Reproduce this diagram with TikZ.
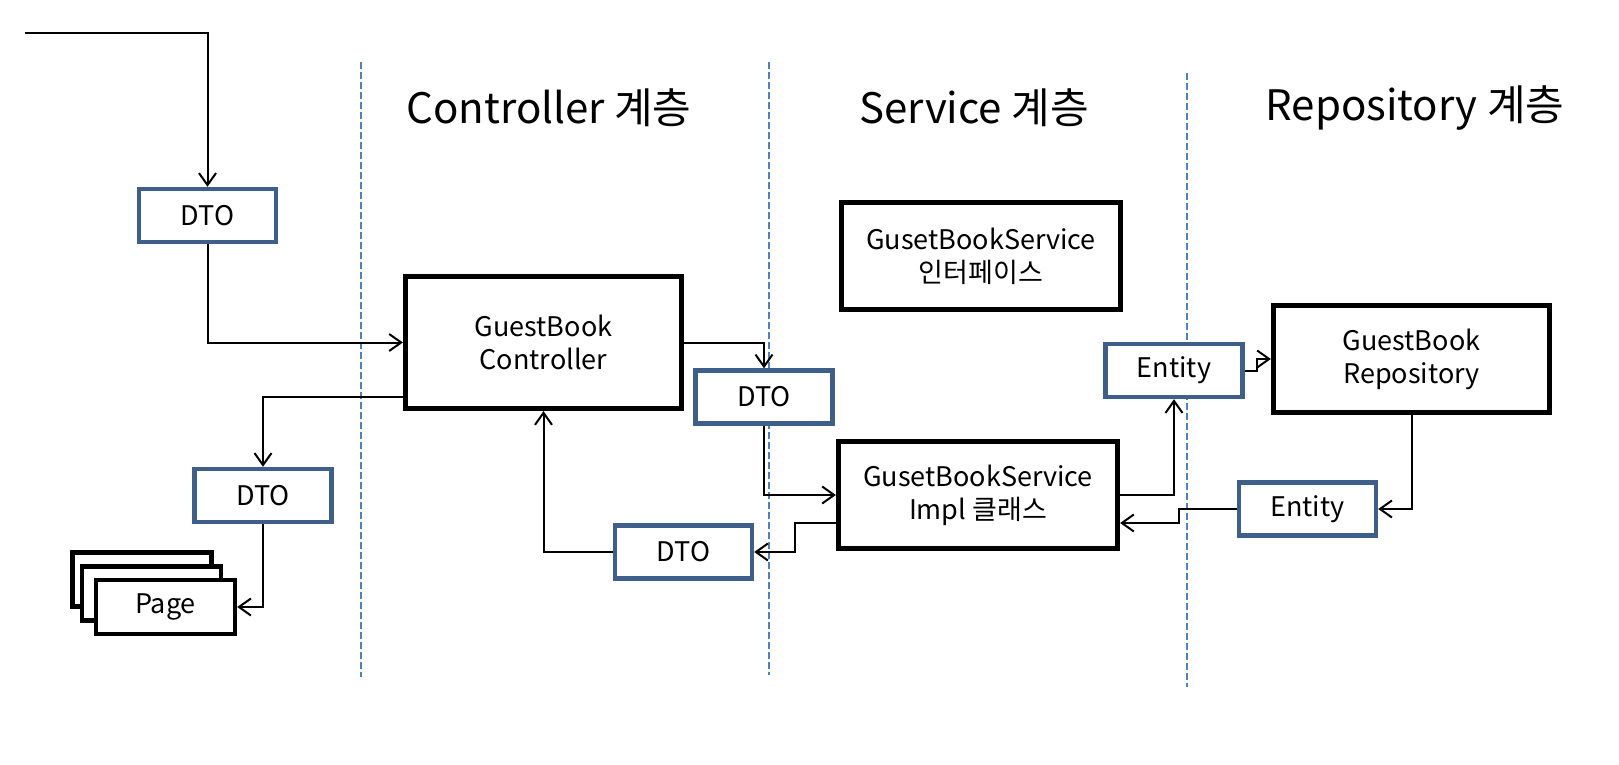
\documentclass[tikz,border=0pt]{standalone}
\usepackage{fontspec}
\setmainfont{Noto Sans CJK KR}
\usetikzlibrary{positioning,arrows.meta}
\definecolor{boxblue}{HTML}{3E5F8A}
\definecolor{lineblue}{HTML}{4F81BD}

\begin{document}
\begin{tikzpicture}[
      x=0.5pt, y=-0.5pt,
      >={Straight Barb[length=6pt,width=8.5pt]},
      font=\fontsize{13.5}{16.5}\selectfont,
      dto/.style={draw=boxblue,line width=2.2pt,fill=white,minimum width=68.5pt,minimum height=26.5pt,inner sep=0pt},
      pagebox/.style={draw,line width=2.2pt,fill=white,minimum width=69.5pt,minimum height=27pt,inner sep=0pt},
      layer/.style={draw,line width=2.6pt,fill=white,align=center,inner sep=0pt,minimum width=139pt,minimum height=53.5pt},
      head/.style={font=\fontsize{21}{25}\selectfont},
      sep/.style={draw=lineblue,line width=1pt,dash pattern=on 3.5pt off 1.5pt},
      flow/.style={->,line width=1pt},
    ]
    \useasboundingbox (0,0) rectangle (1619,765);

    % Layer separators and titles
    \draw[sep] (361,62) -- (361,677);
    \draw[sep] (769,62) -- (769,675);
    \draw[sep] (1187,73) -- (1187,687);
    \node[head] (hctrl) at (549,108) {Controller 계층};
    \node[head] (hsvc) at (974,108) {Service 계층};
    \node[head] (hrepo) at (1415,108) {Repository 계층};

    % Nodes
    \coordinate (in) at (25,33);
    \node[dto] (dto1) at (207.5,215.5) {DTO};
    \node[layer, minimum width=138pt, minimum height=66pt] (ctrl) at (543.5,342.5) {GuestBook\\Controller};
    \node[dto] (dto2) at (263,495.5) {DTO};
    \node[pagebox] (pageb) at (142,579.5) {};
    \node[pagebox] (pagem) at (151.5,593.5) {};
    \node[pagebox] (page) at (165.5,607) {Page};
    \node[dto] (dto3) at (764,397) {DTO};
    \node[dto] (dto4) at (683.5,552) {DTO};
    \node[layer, minimum width=139.5pt] (iface) at (981,256) {GusetBookService\\인터페이스};
    \node[layer, minimum width=139.5pt] (impl) at (978,495) {GusetBookService\\Impl 클래스};
    \node[dto] (ent1) at (1174,370.5) {Entity};
    \node[dto] (ent2) at (1307.5,509) {Entity};
    \node[layer, minimum width=138pt] (repo) at (1411.5,359) {GuestBook\\Repository};

    % Arrows
    \draw[flow] (in) -| (dto1);
    \draw[flow] (dto1) |- (ctrl);
    \draw[flow] ([yshift=7pt]ctrl.south west) -| (dto2);
    \draw[flow] (dto2) |- (page);
    \draw[flow] (ctrl) -| (dto3);
    \draw[flow] (dto3) |- (impl);
    \draw[flow] ([yshift=-14pt]impl.west) -- ++(-41,0) |- (dto4);
    \draw[flow] (dto4) -| (ctrl);
    \draw[flow] (impl) -| (ent1);
    \draw[flow] (ent1.east) -- ++(12,0) |- (repo);
    \draw[flow] (repo) |- (ent2);
    \draw[flow] (ent2.west) -- ++(-58,0) |- ([yshift=-14pt]impl.east);
  \end{tikzpicture}
\end{document}
